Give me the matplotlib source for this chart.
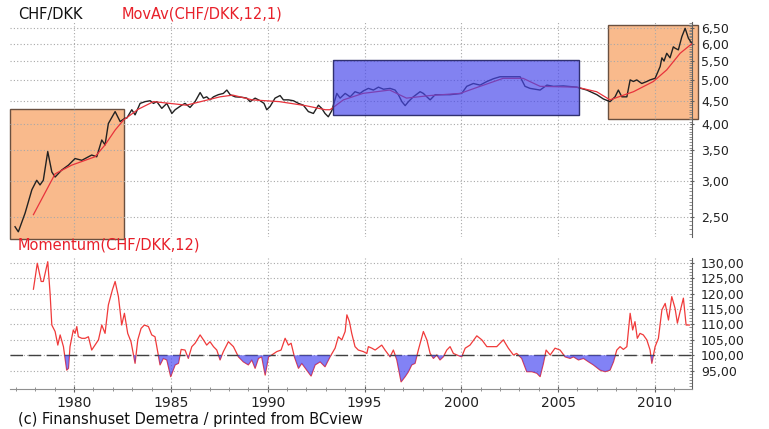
import matplotlib
matplotlib.use("Agg")
import matplotlib.pyplot as plt
import numpy as np
from matplotlib.patches import Rectangle
from matplotlib.ticker import FixedLocator, FuncFormatter, NullFormatter, MultipleLocator

# CHF/DKK monthly-ish readings (decimal year, rate)
px_year = [1976.95, 1977.12, 1977.47, 1977.82, 1978.07, 1978.24, 1978.41, 1978.64, 1978.85, 1979.02,
           1979.36, 1979.71, 1980.05, 1980.40, 1980.91, 1981.17, 1981.43, 1981.60, 1981.77, 1982.12,
           1982.38, 1982.63, 1982.72, 1982.98, 1983.15, 1983.41, 1983.67, 1983.93, 1984.10, 1984.27,
           1984.53, 1984.79, 1985.05, 1985.22, 1985.56, 1985.73, 1985.99, 1986.25, 1986.51, 1986.68,
           1986.85, 1987.02, 1987.20, 1987.45, 1987.71, 1987.89, 1988.06, 1988.32, 1988.66, 1988.92,
           1989.09, 1989.35, 1989.61, 1989.81, 1989.95, 1990.12, 1990.38, 1990.64, 1990.81, 1991.07,
           1991.33, 1991.59, 1991.84, 1992.10, 1992.36, 1992.62, 1992.79, 1992.96, 1993.13, 1993.31,
           1993.57, 1993.74, 1994.00, 1994.26, 1994.51, 1994.77, 1994.94, 1995.20, 1995.46, 1995.72,
           1995.98, 1996.32, 1996.58, 1996.75, 1996.93, 1997.10, 1997.27, 1997.52, 1997.87, 1998.04,
           1998.22, 1998.39, 1998.65, 1998.90, 1999.42, 2000.02, 2000.28, 2000.62, 2000.97, 2001.32,
           2001.66, 2002.00, 2002.52, 2003.04, 2003.29, 2003.55, 2004.07, 2004.42, 2004.76, 2005.27,
           2005.96, 2006.48, 2007.00, 2007.34, 2007.68, 2007.94, 2008.11, 2008.29, 2008.55, 2008.72,
           2008.89, 2009.06, 2009.32, 2009.58, 2009.75, 2010.01, 2010.27, 2010.36, 2010.47, 2010.61,
           2010.78, 2010.95, 2011.04, 2011.21, 2011.39, 2011.56, 2011.73, 2011.90]
px_rate = [2.38, 2.32, 2.55, 2.87, 3.01, 2.94, 3.01, 3.48, 3.14, 3.06,
           3.17, 3.25, 3.36, 3.33, 3.42, 3.39, 3.69, 3.60, 4.01, 4.26,
           4.05, 4.12, 4.12, 4.30, 4.19, 4.44, 4.48, 4.50, 4.44, 4.48,
           4.33, 4.44, 4.22, 4.30, 4.40, 4.44, 4.35, 4.48, 4.69, 4.56,
           4.59, 4.52, 4.59, 4.64, 4.67, 4.75, 4.64, 4.59, 4.58, 4.56,
           4.48, 4.56, 4.50, 4.44, 4.30, 4.37, 4.56, 4.62, 4.52, 4.52,
           4.50, 4.44, 4.40, 4.26, 4.22, 4.40, 4.33, 4.22, 4.15, 4.28,
           4.67, 4.56, 4.67, 4.59, 4.71, 4.67, 4.73, 4.79, 4.75, 4.82,
           4.77, 4.79, 4.75, 4.64, 4.48, 4.39, 4.48, 4.59, 4.71, 4.67,
           4.59, 4.52, 4.64, 4.64, 4.64, 4.67, 4.84, 4.91, 4.87, 4.96,
           5.03, 5.08, 5.08, 5.08, 4.84, 4.79, 4.75, 4.87, 4.84, 4.85,
           4.82, 4.75, 4.64, 4.54, 4.48, 4.59, 4.75, 4.59, 4.59, 5.00,
           4.96, 5.00, 4.91, 4.96, 5.00, 5.04, 5.35, 5.59, 5.50, 5.72,
           5.59, 5.91, 5.87, 5.82, 6.22, 6.49, 6.17, 6.02]

# MovAv(CHF/DKK,12,1)
ma_year = [1977.90, 1979.02, 1979.88, 1981.08, 1981.60, 1982.12, 1982.55, 1983.31, 1984.10, 1985.80,
           1987.54, 1988.20, 1989.20, 1990.60, 1991.95, 1992.98, 1993.22, 1993.91, 1994.92, 1996.30,
           1997.17, 1998.39, 1999.94, 2000.97, 2002.16, 2003.19, 2004.07, 2005.96, 2006.99, 2007.68,
           2008.89, 2009.92, 2010.61, 2011.30, 2011.90]
ma_rate = [2.53, 3.11, 3.25, 3.39, 3.60, 3.88, 4.08, 4.31, 4.48, 4.40,
           4.59, 4.63, 4.52, 4.48, 4.39, 4.30, 4.30, 4.52, 4.67, 4.75,
           4.56, 4.62, 4.67, 4.84, 5.04, 5.04, 4.84, 4.82, 4.71, 4.52,
           4.71, 4.96, 5.26, 5.72, 6.00]

# Momentum(CHF/DKK,12)
mom_year = [1977.90, 1978.10, 1978.30, 1978.41, 1978.64, 1978.76, 1978.85, 1979.02, 1979.16, 1979.28,
            1979.45, 1979.62, 1979.71, 1979.79, 1979.96, 1980.05, 1980.14, 1980.22, 1980.40, 1980.57,
            1980.74, 1980.91, 1981.08, 1981.26, 1981.43, 1981.60, 1981.77, 1981.98, 1982.12, 1982.29,
            1982.46, 1982.60, 1982.77, 1982.94, 1983.15, 1983.29, 1983.46, 1983.63, 1983.84, 1984.01,
            1984.18, 1984.44, 1984.61, 1984.79, 1984.99, 1985.22, 1985.39, 1985.53, 1985.73, 1985.90,
            1986.08, 1986.25, 1986.51, 1986.68, 1986.85, 1987.02, 1987.20, 1987.37, 1987.54, 1987.71,
            1987.97, 1988.23, 1988.49, 1988.74, 1989.00, 1989.18, 1989.35, 1989.52, 1989.69, 1989.87,
            1990.04, 1990.21, 1990.47, 1990.69, 1990.90, 1991.07, 1991.21, 1991.38, 1991.59, 1991.76,
            1992.02, 1992.24, 1992.45, 1992.71, 1992.96, 1993.22, 1993.48, 1993.65, 1993.83, 1994.00,
            1994.09, 1994.22, 1994.34, 1994.51, 1994.68, 1994.94, 1995.12, 1995.20, 1995.38, 1995.55,
            1995.89, 1996.06, 1996.32, 1996.49, 1996.67, 1996.89, 1997.10, 1997.27, 1997.44, 1997.61,
            1997.78, 1998.04, 1998.22, 1998.39, 1998.56, 1998.73, 1998.90, 1999.07, 1999.25, 1999.42,
            1999.59, 1999.77, 2000.02, 2000.20, 2000.45, 2000.80, 2001.06, 2001.32, 2001.57, 2001.83,
            2002.17, 2002.43, 2002.69, 2002.86, 2003.12, 2003.38, 2003.64, 2003.90, 2004.07, 2004.24,
            2004.38, 2004.59, 2004.84, 2005.10, 2005.36, 2005.62, 2005.79, 2006.05, 2006.31, 2006.57,
            2006.82, 2007.17, 2007.43, 2007.68, 2007.86, 2008.03, 2008.20, 2008.37, 2008.55, 2008.72,
            2008.85, 2008.97, 2009.09, 2009.23, 2009.40, 2009.58, 2009.75, 2009.84, 2010.01, 2010.18,
            2010.36, 2010.53, 2010.70, 2010.87, 2011.04, 2011.16, 2011.34, 2011.47, 2011.61, 2011.78]
mom_val = [121.4, 129.8, 123.9, 123.9, 130.3, 120.1, 109.8, 107.7, 103.3, 106.6,
           102.8, 95.2, 95.8, 102.8, 108.2, 107.1, 109.3, 106.0, 105.5, 105.5,
           106.0, 101.7, 103.3, 105.0, 109.8, 107.1, 116.3, 121.2, 123.9, 119.0,
           109.8, 113.6, 107.1, 104.4, 97.4, 105.0, 108.7, 109.8, 109.3, 106.6,
           106.0, 96.9, 99.0, 98.5, 93.1, 96.9, 97.4, 101.9, 101.7, 99.0,
           102.8, 103.9, 106.6, 105.0, 103.3, 104.4, 102.8, 101.7, 98.5, 101.2,
           104.4, 102.8, 99.5, 97.9, 96.9, 98.5, 95.8, 99.0, 99.5, 93.6,
           99.5, 100.1, 101.2, 101.7, 105.5, 103.3, 103.9, 99.5, 95.8, 97.4,
           95.2, 93.3, 96.9, 97.9, 96.3, 99.5, 102.3, 106.0, 105.0, 107.7,
           113.1, 110.9, 107.1, 102.8, 101.7, 101.2, 100.6, 102.8, 102.3, 101.7,
           103.3, 101.7, 99.5, 101.7, 98.5, 91.4, 93.1, 94.7, 96.9, 97.4,
           101.7, 107.7, 105.0, 100.6, 99.0, 100.1, 98.5, 99.5, 101.7, 102.8,
           100.6, 100.1, 99.5, 102.3, 103.3, 106.3, 105.0, 102.8, 102.8, 102.8,
           105.0, 102.3, 100.1, 100.6, 99.0, 94.7, 94.7, 94.2, 93.1, 97.4,
           101.7, 100.1, 102.3, 101.7, 99.5, 99.0, 99.5, 98.5, 99.0, 97.9,
           96.9, 95.2, 94.7, 95.2, 97.9, 101.7, 102.8, 101.9, 102.8, 113.6,
           108.2, 110.9, 105.5, 107.1, 106.6, 105.0, 101.7, 97.4, 102.8, 105.5,
           114.7, 116.8, 111.4, 119.0, 115.2, 110.4, 115.2, 118.5, 109.8, 109.8]

# highlighted periods: (start year, end year, low rate, high rate)
orange_boxes = [(1976.69, 1982.58, 2.24, 4.32), (2007.58, 2012.23, 4.10, 6.60)]
blue_boxes = [(1993.38, 2006.08, 4.19, 5.54)]

rate_ticks = [2.5, 3.0, 3.5, 4.0, 4.5, 5.0, 5.5, 6.0, 6.5]
mom_ticks = [95, 100, 105, 110, 115, 120, 125, 130]
year_ticks = [1980, 1985, 1990, 1995, 2000, 2005, 2010]

comma = FuncFormatter(lambda v, p: f"{v:.2f}".replace(".", ","))
grid_kw = dict(color="#a8a8a8", linestyle=(0, (1, 2)), linewidth=0.8)
xlim = (1976.69, 2011.92)

fig = plt.figure(figsize=(7.69, 4.29), dpi=100)
ax1 = fig.add_axes([0.013, 0.4476, 0.887, 0.5011])
ax2 = fig.add_axes([0.013, 0.0932, 0.887, 0.3054])

# top panel
ax1.set_yscale("log")
ax1.plot(px_year, px_rate, color="#222222", lw=1.0, zorder=2)
ax1.plot(ma_year, ma_rate, color="#e8333c", lw=0.9, zorder=2.2)
for x0, x1, y0, y1 in orange_boxes:
    ax1.add_patch(Rectangle((x0, y0), x1 - x0, y1 - y0, facecolor="#f9ba8c",
                            edgecolor="#6a5040", lw=1, zorder=1, clip_on=False))
for x0, x1, y0, y1 in blue_boxes:
    ax1.add_patch(Rectangle((x0, y0), x1 - x0, y1 - y0, facecolor=(0.28, 0.28, 0.92, 0.68),
                            edgecolor="#303070", lw=1, zorder=3, clip_on=False))
ax1.set_xlim(*xlim)
ax1.set_ylim(2.26, 6.70)
ax1.yaxis.set_major_locator(FixedLocator(rate_ticks))
ax1.yaxis.set_major_formatter(comma)
ax1.yaxis.set_minor_locator(FixedLocator(np.arange(2.3, 6.7, 0.05)))
ax1.yaxis.set_minor_formatter(NullFormatter())
ax1.set_xticks(year_ticks)
ax1.tick_params(axis="x", bottom=False, labelbottom=False)
ax1.grid(True, **grid_kw)

# bottom panel
ax2.plot(mom_year, mom_val, color="#f03a3a", lw=0.9, zorder=2)
mv = np.array(mom_val)
ax2.fill_between(mom_year, mv, 100, where=mv < 100, interpolate=True,
                 facecolor=(0.3, 0.3, 0.95, 0.7), edgecolor="none", zorder=3)
ax2.axhline(100, color="#404040", lw=1.0, dashes=(9, 4), zorder=2.5)
ax2.set_xlim(*xlim)
ax2.set_ylim(89.08, 131.5)
ax2.yaxis.set_major_locator(FixedLocator(mom_ticks))
ax2.yaxis.set_major_formatter(comma)
ax2.yaxis.set_minor_locator(MultipleLocator(1))
ax2.set_xticks(year_ticks)
ax2.xaxis.set_minor_locator(MultipleLocator(1))
ax2.grid(True, **grid_kw)

for ax in (ax1, ax2):
    for s in ("left", "top", "bottom"):
        ax.spines[s].set_visible(False)
    ax.spines["right"].set_color("#606060")
    ax.yaxis.tick_right()
    ax.tick_params(axis="y", which="major", labelsize=9, length=3, direction="inout",
                   colors="#606060", labelcolor="#222222", pad=5)
    ax.tick_params(axis="y", which="minor", length=2, direction="in", colors="#808080")
    ax.set_axisbelow("line")

ax2.spines["bottom"].set_visible(True)
ax2.spines["bottom"].set_color("#909090")
ax2.tick_params(axis="x", which="major", labelsize=10, length=4, direction="inout",
                colors="#606060", labelcolor="#222222", pad=3)
ax2.tick_params(axis="x", which="minor", length=3, direction="inout", colors="#808080")

fig.text(0.023, 0.967, "CHF/DKK", fontsize=10.5, color="#111111", va="center")
fig.text(0.158, 0.967, "MovAv(CHF/DKK,12,1)", fontsize=10.5, color="#e8202a", va="center")
fig.text(0.023, 0.429, "Momentum(CHF/DKK,12)", fontsize=10.5, color="#e8202a", va="center")
fig.text(0.023, 0.021, "(c) Finanshuset Demetra / printed from BCview", fontsize=10.5,
         color="#111111", va="center")

fig.savefig("out.png", dpi=100)
